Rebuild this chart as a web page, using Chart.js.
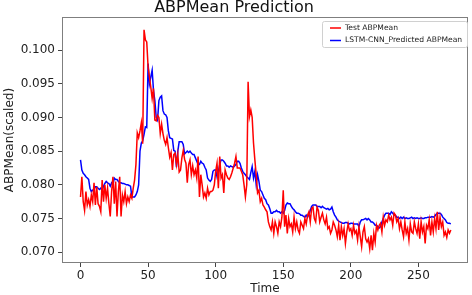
<!DOCTYPE html>
<html>
<head>
<meta charset="utf-8">
<script src="https://cdn.jsdelivr.net/npm/chart.js@4"></script>
<style>
  html, body { margin: 0; padding: 0; background: #fff; }
  #chart { display: block; }
</style>
</head>
<body>
<canvas id="chart" width="472" height="295"></canvas>
<script>
// values
var xTicks = [0, 50, 100, 150, 200, 250];
var yTicks = [0.070, 0.075, 0.080, 0.085, 0.090, 0.095, 0.100];

var testABP = [
  0.0782, 0.0812, 0.0775, 0.0762, 0.0790, 0.0770, 0.0778, 0.0768, 0.0785, 0.0775,
  0.0803, 0.0770, 0.0797, 0.0772, 0.0768, 0.0760, 0.0807, 0.0775, 0.0800, 0.0780,
  0.0795, 0.0772, 0.0753, 0.0790, 0.0812, 0.0772, 0.0805, 0.0753, 0.0790, 0.0812,
  0.0753, 0.0785, 0.0775, 0.0790, 0.0772, 0.0782, 0.0775, 0.0785, 0.0780, 0.0795,
  0.0807, 0.0830, 0.0877, 0.0870, 0.0880, 0.0892, 0.0861, 0.1030, 0.1015, 0.1012,
  0.0975, 0.0960, 0.0945, 0.0928, 0.0943, 0.0896, 0.0895, 0.0903, 0.0900, 0.0876,
  0.0890, 0.0876, 0.0866, 0.0860, 0.0870, 0.0855, 0.0841, 0.0848, 0.0822, 0.0845,
  0.0847, 0.0830, 0.0845, 0.0819, 0.0822, 0.0840, 0.0851, 0.0838, 0.0832, 0.0803,
  0.0830, 0.0837, 0.0815, 0.0828, 0.0815, 0.0822, 0.0810, 0.0842, 0.0782, 0.0815,
  0.0800, 0.0782, 0.0788, 0.0780, 0.0795, 0.0785, 0.0790, 0.0790, 0.0792, 0.0800,
  0.0820, 0.0832, 0.0795, 0.0842, 0.0810, 0.0815, 0.0788, 0.0822, 0.0815, 0.0810,
  0.0808, 0.0812, 0.0818, 0.0825, 0.0832, 0.0842, 0.0825, 0.0825, 0.0825, 0.0820,
  0.0815, 0.0800, 0.0782, 0.0800, 0.0953, 0.0901, 0.0911, 0.0900, 0.0862, 0.0837,
  0.0815, 0.0788, 0.0792, 0.0775, 0.0780, 0.0770, 0.0767, 0.0763, 0.0760, 0.0745,
  0.0738, 0.0733, 0.0745, 0.0728, 0.0745, 0.0738, 0.0728, 0.0745, 0.0738, 0.0752,
  0.0792, 0.0738, 0.0755, 0.0728, 0.0750, 0.0738, 0.0742, 0.0730, 0.0752, 0.0735,
  0.0745, 0.0733, 0.0728, 0.0745, 0.0740, 0.0735, 0.0750, 0.0742, 0.0755, 0.0760,
  0.0745, 0.0765, 0.0767, 0.0750, 0.0745, 0.0767, 0.0762, 0.0745, 0.0752, 0.0758,
  0.0748, 0.0742, 0.0752, 0.0735, 0.0738, 0.0728, 0.0733, 0.0745, 0.0740, 0.0733,
  0.0723, 0.0740, 0.0718, 0.0738, 0.0725, 0.0735, 0.0713, 0.0730, 0.0742, 0.0732,
  0.0735, 0.0725, 0.0740, 0.0728, 0.0732, 0.0718, 0.0738, 0.0723, 0.0708, 0.0730,
  0.0738, 0.0720, 0.0715, 0.0720, 0.0705, 0.0725, 0.0703, 0.0728, 0.0715, 0.0740,
  0.0733, 0.0740, 0.0743, 0.0730, 0.0752, 0.0740, 0.0748, 0.0745, 0.0755, 0.0748,
  0.0752, 0.0740, 0.0758, 0.0755, 0.0745, 0.0750, 0.0735, 0.0745, 0.0733, 0.0723,
  0.0745, 0.0728, 0.0735, 0.0718, 0.0742, 0.0730, 0.0728, 0.0745, 0.0735, 0.0728,
  0.0742, 0.0720, 0.0745, 0.0730, 0.0738, 0.0713, 0.0740, 0.0735, 0.0748, 0.0725,
  0.0745, 0.0730, 0.0750, 0.0735, 0.0760, 0.0733, 0.0752, 0.0738, 0.0745, 0.0725,
  0.0730, 0.0722, 0.0733, 0.0728, 0.0733
];

var predABP = [
  0.0837, 0.0822, 0.0817, 0.0815, 0.0812, 0.0810, 0.0808, 0.0795, 0.0790, 0.0792,
  0.0793, 0.0797, 0.0797, 0.0795, 0.0793, 0.0795, 0.0792, 0.0798, 0.0802, 0.0805,
  0.0803, 0.0802, 0.0798, 0.0803, 0.0800, 0.0810, 0.0808, 0.0808, 0.0805, 0.0803,
  0.0803, 0.0802, 0.0802, 0.0801, 0.0800, 0.0800, 0.0799, 0.0798, 0.0782, 0.0782,
  0.0782, 0.0785, 0.0790, 0.0800, 0.0850, 0.0862, 0.0865, 0.0875, 0.0886, 0.0885,
  0.0980, 0.0950, 0.0960, 0.0970, 0.0940, 0.0925, 0.0900, 0.0896, 0.0925, 0.0930,
  0.0932, 0.0910, 0.0905, 0.0904, 0.0900, 0.0880, 0.0870, 0.0869, 0.0868, 0.0851,
  0.0850, 0.0826, 0.0850, 0.0864, 0.0864, 0.0864, 0.0860, 0.0846, 0.0848, 0.0850,
  0.0848, 0.0850, 0.0847, 0.0845, 0.0845, 0.0840, 0.0835, 0.0830, 0.0830, 0.0835,
  0.0832, 0.0831, 0.0826, 0.0822, 0.0810, 0.0807, 0.0805, 0.0808, 0.0820, 0.0822,
  0.0822, 0.0812, 0.0820, 0.0830, 0.0837, 0.0837, 0.0835, 0.0832, 0.0828, 0.0828,
  0.0826, 0.0828, 0.0827, 0.0826, 0.0828, 0.0830, 0.0835, 0.0835, 0.0832, 0.0825,
  0.0820, 0.0817, 0.0815, 0.0812, 0.0810, 0.0808, 0.0818, 0.0827, 0.0810, 0.0820,
  0.0800, 0.0815, 0.0805, 0.0792, 0.0790, 0.0785, 0.0780, 0.0778, 0.0772, 0.0770,
  0.0765, 0.0758, 0.0758, 0.0760, 0.0760, 0.0762, 0.0760, 0.0760, 0.0758, 0.0760,
  0.0758, 0.0762, 0.0770, 0.0773, 0.0772, 0.0772, 0.0768, 0.0765, 0.0763, 0.0760,
  0.0758, 0.0758, 0.0757, 0.0755, 0.0755, 0.0753, 0.0752, 0.0755, 0.0752, 0.0756,
  0.0762, 0.0768, 0.0770, 0.0770, 0.0770, 0.0768, 0.0768, 0.0768, 0.0766, 0.0768,
  0.0766, 0.0765, 0.0764, 0.0765, 0.0763, 0.0764, 0.0767, 0.0760, 0.0755, 0.0752,
  0.0748, 0.0746, 0.0745, 0.0744, 0.0743, 0.0743, 0.0744, 0.0744, 0.0743, 0.0742,
  0.0743, 0.0743, 0.0742, 0.0742, 0.0742, 0.0742, 0.0738, 0.0745, 0.0748, 0.0748,
  0.0749, 0.0750, 0.0748, 0.0750, 0.0748, 0.0745, 0.0745, 0.0743, 0.0740, 0.0740,
  0.0738, 0.0736, 0.0738, 0.0745, 0.0750, 0.0755, 0.0758, 0.0758, 0.0758, 0.0756,
  0.0760, 0.0758, 0.0755, 0.0755, 0.0752, 0.0752, 0.0750, 0.0752, 0.0750, 0.0752,
  0.0750, 0.0751, 0.0750, 0.0750, 0.0751, 0.0752, 0.0750, 0.0751, 0.0750, 0.0751,
  0.0750, 0.0750, 0.0751, 0.0750, 0.0750, 0.0751, 0.0751, 0.0752, 0.0752, 0.0752,
  0.0753, 0.0752, 0.0753, 0.0756, 0.0758, 0.0758, 0.0758, 0.0756, 0.0752, 0.0750,
  0.0748, 0.0744, 0.0743, 0.0743, 0.0742
];

var seriesNames = ['Test ABPMean', 'LSTM-CNN_Predicted ABPMean'];
var seriesColors = ['#ff0000', '#0000ff'];

var FONT = '"DejaVu Sans", "Liberation Sans", sans-serif';

function toPoints(arr) {
    return arr.map(function (v, i) { return { x: i, y: v }; });
}

// full box round the plot, like matplotlib spines
var frame = {
    id: 'frame',
    afterDatasetsDraw: function (chart) {
        let a = chart.chartArea, ctx = chart.ctx;
        ctx.save();
        ctx.strokeStyle = '#7f7f7f';
        ctx.lineWidth = 1;
        ctx.strokeRect(a.left + 0.5, a.top + 0.5, a.right - a.left - 1, a.bottom - a.top - 1);
        ctx.restore();
    }
};

// legend drawn in the upper right corner of the plot
var boxLegend = {
    id: 'boxLegend',
    afterDraw: function (chart) {
        let a = chart.chartArea, ctx = chart.ctx;
        let w = 145, h = 26;
        let x0 = a.right - w - 1, y0 = a.top + 4;
        ctx.save();
        ctx.fillStyle = 'rgba(255,255,255,0.85)';
        ctx.strokeStyle = '#d0d0d0';
        ctx.lineWidth = 1;
        ctx.beginPath();
        ctx.roundRect(x0 + 0.5, y0 + 0.5, w, h, 2);
        ctx.fill();
        ctx.stroke();
        ctx.font = '7.6px ' + FONT;
        ctx.textBaseline = 'middle';
        for (let i = 0; i < seriesNames.length; i++) {
            let y = y0 + 7 + i * 12.5;
            ctx.strokeStyle = seriesColors[i];
            ctx.lineWidth = 1.5;
            ctx.beginPath();
            ctx.moveTo(x0 + 8, y);
            ctx.lineTo(x0 + 19, y);
            ctx.stroke();
            ctx.fillStyle = '#222';
            ctx.fillText(seriesNames[i], x0 + 23, y);
        }
        ctx.restore();
    }
};

const ctx = document.getElementById('chart');

new Chart(ctx, {
    type: 'line',
    data: {
        datasets: [{
            label: seriesNames[0],
            data: toPoints(testABP),
            borderColor: seriesColors[0],
            borderWidth: 1.5,
            pointRadius: 0,
            tension: 0
        }, {
            label: seriesNames[1],
            data: toPoints(predABP),
            borderColor: seriesColors[1],
            borderWidth: 1.5,
            pointRadius: 0,
            tension: 0
        }]
    },
    plugins: [frame, boxLegend],
    options: {
        responsive: false,
        animation: false,
        layout: { padding: { left: 0, right: 4, top: 0, bottom: 0 } },
        plugins: {
            legend: { display: false },
            tooltip: { enabled: false },
            title: {
                display: true,
                text: 'ABPMean Prediction',
                color: '#111',
                font: { family: FONT, size: 16, weight: 'normal', lineHeight: 1 },
                padding: { top: 0, bottom: 1 }
            }
        },
        scales: {
            x: {
                type: 'linear',
                min: -13.7,
                max: 286.7,
                afterBuildTicks: function (scale) {
                    scale.ticks = xTicks.map(function (v) { return { value: v }; });
                },
                afterFit: function (scale) { scale.height = 32; },
                grid: { drawOnChartArea: false, tickLength: 4, color: '#444' },
                border: { display: false },
                ticks: {
                    color: '#222',
                    padding: 2,
                    maxRotation: 0,
                    font: { family: FONT, size: 12 }
                },
                title: {
                    display: true,
                    text: 'Time',
                    color: '#222',
                    font: { family: FONT, size: 12, lineHeight: 1 },
                    padding: { top: 0, bottom: 0 }
                }
            },
            y: {
                min: 0.0684,
                max: 0.1049,
                afterBuildTicks: function (scale) {
                    scale.ticks = yTicks.map(function (v) { return { value: v }; });
                },
                afterFit: function (scale) { scale.width = 62; },
                grid: { drawOnChartArea: false, tickLength: 4, color: '#444' },
                border: { display: false },
                ticks: {
                    color: '#222',
                    padding: 3,
                    font: { family: FONT, size: 12 },
                    callback: function (v) { return v.toFixed(3); }
                },
                title: {
                    display: true,
                    text: 'ABPMean(scaled)',
                    color: '#222',
                    font: { family: FONT, size: 12, lineHeight: 1 },
                    padding: { top: 4, bottom: 0 }
                }
            }
        }
    }
});
</script>
</body>
</html>
